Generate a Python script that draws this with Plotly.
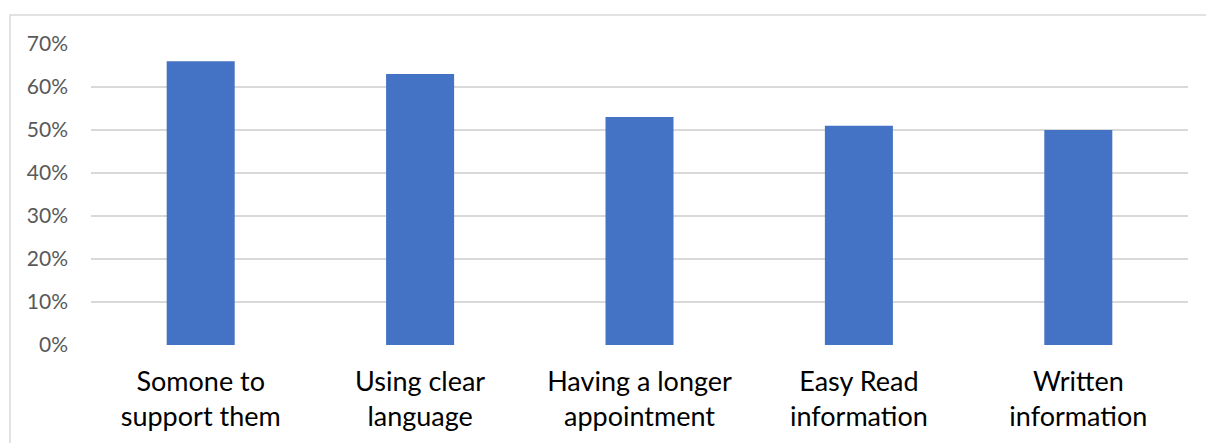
import plotly.graph_objects as go

categories = ["Somone to<br>support them", "Using clear<br>language", "Having a longer<br>appointment",
              "Easy Read<br>information", "Written<br>information"]
values = [0.66, 0.63, 0.53, 0.51, 0.50]

W, H = 1206, 443
ml, mr, mt, mb = 91, 18, 44, 98
pw, ph = W - ml - mr, H - mt - mb

fig = go.Figure(go.Bar(x=categories, y=values, marker=dict(color="#4472C4", line=dict(width=0))))

# outer chart border (extends past right/bottom edges)
fig.add_shape(type="rect", xref="paper", yref="paper",
              x0=(10 - ml) / pw, x1=(W + 10 - ml) / pw,
              y0=(H - mb - (H + 10)) / ph, y1=(H - mb - 15) / ph,
              line=dict(color="#d9d9d9", width=1.5), fillcolor="rgba(0,0,0,0)", layer="below")

fig.update_layout(
    width=W, height=H,
    margin=dict(l=ml, r=mr, t=mt, b=mb),
    paper_bgcolor="white", plot_bgcolor="white",
    bargap=0.69,
    showlegend=False,
    font=dict(family="Lato, Carlito, Calibri, sans-serif"),
    xaxis=dict(showgrid=False, showline=False, zeroline=False, ticks="",
               tickfont=dict(size=27, color="#000000"), ticklabelstandoff=18),
    yaxis=dict(range=[0, 0.7], dtick=0.1, tickformat=".0%", showline=False, zeroline=False,
               gridcolor="#d9d9d9", gridwidth=1.5, ticks="",
               tickfont=dict(size=21, color="#595959"), ticklabelstandoff=22),
)

fig.write_html("out.html")
